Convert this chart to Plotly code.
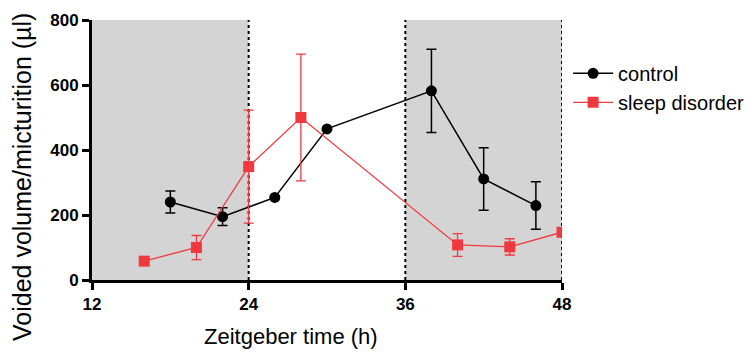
import plotly.graph_objects as go

# Data
ctrl_x = [18, 22, 26, 30, 38, 42, 46]
ctrl_y = [240, 195, 254, 465, 582, 311, 229]
ctrl_err = [34, 27, 0, 0, 128, 96, 73]

sd_x = [16, 20, 24, 28, 40, 44, 48]
sd_y = [58, 100, 349, 500, 108, 102, 147]
sd_err = [0, 37, 174, 195, 35, 25, 0]

dark_periods = [(12, 24), (36, 48)]
dotted_lines = [24, 36, 48]

x_ticks = [12, 24, 36, 48]
y_ticks = [0, 200, 400, 600, 800]

x_title = "Zeitgeber time (h)"
y_title = "Voided volume/micturition (µl)"

RED = "#f0393f"
FONT = "Liberation Sans, Arial, sans-serif"

fig = go.Figure()

fig.add_trace(go.Scatter(
    x=ctrl_x, y=ctrl_y, name="control", mode="lines+markers",
    line=dict(color="black", width=1.5),
    marker=dict(symbol="circle", size=11, color="black"),
    error_y=dict(type="data", array=ctrl_err, visible=True, color="black",
                 thickness=1.5, width=5),
))
fig.add_trace(go.Scatter(
    x=sd_x, y=sd_y, name="sleep disorder", mode="lines+markers",
    line=dict(color=RED, width=1.3),
    marker=dict(symbol="square", size=11, color=RED),
    error_y=dict(type="data", array=sd_err, visible=True, color=RED,
                 thickness=1.3, width=5),
))

shapes = []
for a, b in dark_periods:
    shapes.append(dict(type="rect", xref="x", yref="y", x0=a, x1=b, y0=0, y1=800,
                       fillcolor="#d4d4d4", line=dict(width=0), layer="below"))
for v in dotted_lines:
    shapes.append(dict(type="line", xref="x", yref="y", x0=v, x1=v, y0=0, y1=800,
                       line=dict(color="black", width=2, dash="dot"), layer="below"))

annotations = [
    dict(text=x_title, xref="paper", yref="paper", x=0.424, y=-0.219,
         xanchor="center", yanchor="middle", showarrow=False,
         font=dict(size=22, family=FONT, color="black")),
    dict(text=y_title, xref="paper", yref="paper", x=-0.149, y=0.396,
         xanchor="center", yanchor="middle", showarrow=False, textangle=-90,
         font=dict(size=25, family=FONT, color="black")),
]

# page body has an 8px margin, so the figure is 744x345 and offset by 8px
fig.update_layout(
    width=744, height=345,
    margin=dict(l=84, r=190, t=12, b=73, autoexpand=False),
    paper_bgcolor="white", plot_bgcolor="white",
    shapes=shapes,
    annotations=annotations,
    font=dict(family=FONT, color="black"),
    showlegend=True,
    legend=dict(x=1.013, y=0.87, xanchor="left", yanchor="top",
                font=dict(size=20, family=FONT), tracegroupgap=0,
                bgcolor="rgba(0,0,0,0)", itemwidth=40),
)

fig.update_xaxes(
    range=[12, 48], tickvals=x_ticks, ticktext=[str(t) for t in x_ticks],
    showgrid=False, zeroline=False, automargin=False,
    showline=True, linecolor="black", linewidth=3,
    ticks="outside", ticklen=7, tickwidth=3, tickcolor="black",
    tickfont=dict(size=17, family=FONT, weight="bold"),
)
fig.update_yaxes(
    range=[0, 800], tickvals=y_ticks, ticktext=[str(t) for t in y_ticks],
    showgrid=False, zeroline=False, automargin=False,
    showline=True, linecolor="black", linewidth=3,
    ticks="outside", ticklen=7, tickwidth=3, tickcolor="black",
    tickfont=dict(size=17, family=FONT, weight="bold"),
)

fig.write_html("out.html")
